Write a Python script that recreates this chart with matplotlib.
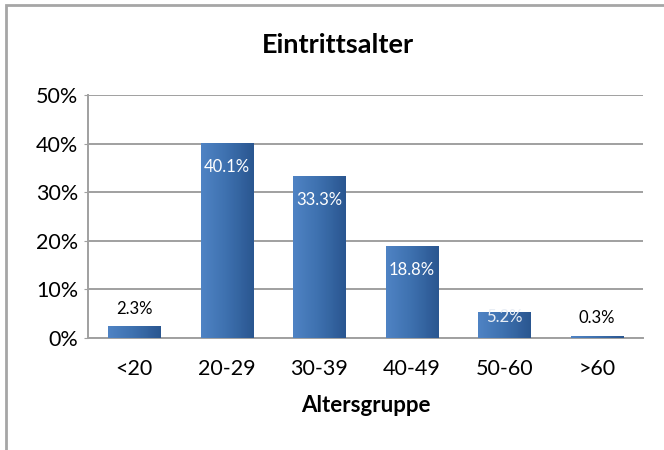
import numpy as np
import matplotlib.pyplot as plt
from matplotlib.colors import LinearSegmentedColormap
from matplotlib.patches import Rectangle

plt.rcParams['font.family'] = ['Lato', 'DejaVu Sans']

# Eintrittsalter nach Altersgruppe (Anteil in %)
groups = ['<20', '20-29', '30-39', '40-49', '50-60', '>60']
shares = [2.3, 40.1, 33.3, 18.8, 5.2, 0.3]
yticks = [0, 10, 20, 30, 40, 50]

fig = plt.figure(figsize=(6.64, 4.5), dpi=100)
fig.patches.append(Rectangle((6 / 664, -0.1), 1.2, 1 - 5 / 450 + 0.1,
                             transform=fig.transFigure, fill=False,
                             edgecolor='#a6a6a6', lw=2))

ax = fig.add_axes([88 / 664, 1 - 338 / 450, (643 - 88) / 664, (338 - 95) / 450])

x = np.arange(len(groups))
width = 0.565
bar_cmap = LinearSegmentedColormap.from_list('bar', ['#4f83c4', '#3d70ae', '#2a5690'])
grad = np.linspace(0, 1, 64).reshape(1, -1)

bars = ax.bar(x, shares, width=width, color='none', zorder=3)
for b in bars:
    x0, w, h = b.get_x(), b.get_width(), b.get_height()
    ax.imshow(grad, cmap=bar_cmap, aspect='auto', extent=[x0, x0 + w, 0, h],
              zorder=3, interpolation='bicubic')

for xi, v in zip(x, shares):
    if v >= 10:
        ax.annotate(f'{v:.1f}%', (xi, v), xytext=(0, -17), textcoords='offset points',
                    ha='center', va='center', color='white', fontsize=12, zorder=5)
    elif v >= 4:
        ax.annotate(f'{v:.1f}%', (xi, v), xytext=(0, -3), textcoords='offset points',
                    ha='center', va='center', color='#e8edf4', fontsize=12, zorder=5)
    else:
        ax.annotate(f'{v:.1f}%', (xi, v), xytext=(0, 13), textcoords='offset points',
                    ha='center', va='center', color='black', fontsize=12, zorder=5)

ax.set_xlim(-0.5, len(groups) - 0.5)
ax.set_ylim(0, 50)
ax.set_yticks(yticks)
ax.set_yticklabels([f'{t}%' for t in yticks], fontsize=15.5)
ax.set_xticks(x)
ax.set_xticklabels(groups, fontsize=15.5)
ax.tick_params(axis='x', length=0, pad=15)
ax.tick_params(axis='y', length=3, color='#a0a0a0', pad=4)
ax.grid(axis='y', color='#a0a0a0', lw=1.4, zorder=1)
for side in ['top', 'right']:
    ax.spines[side].set_visible(False)
for side in ['left', 'bottom']:
    ax.spines[side].set_color('#a0a0a0')
    ax.spines[side].set_linewidth(1.4)

ax.set_xlabel('Altersgruppe', fontsize=16, fontweight='bold', labelpad=12)
fig.text(338 / 664, 1 - 45 / 450, 'Eintrittsalter', ha='center', va='center',
         fontsize=19.5, fontweight='bold')

fig.savefig('out.png', dpi=100)
